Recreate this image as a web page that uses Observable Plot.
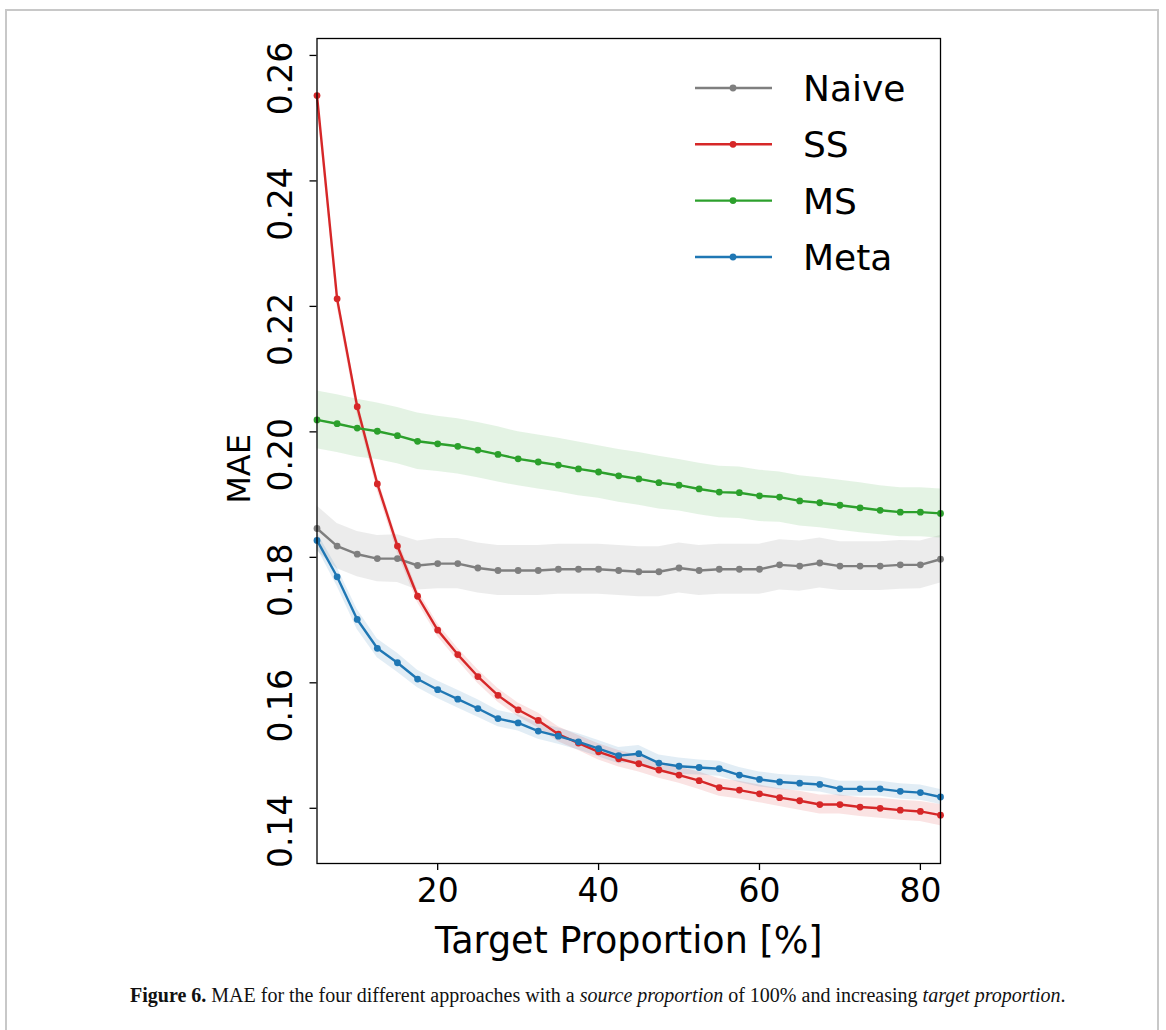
<!DOCTYPE html>
<html>
<head>
<meta charset="utf-8">
<script src="https://cdn.jsdelivr.net/npm/d3@7"></script>
<script src="https://cdn.jsdelivr.net/npm/@observablehq/plot@0.6"></script>
<style>
  html, body { margin: 0; padding: 0; background: #fff; }
  #page { position: relative; width: 1166px; height: 1030px; overflow: hidden; }
  #border { position: absolute; left: 5px; top: 9px; width: 1154px; height: 1040px; border: 2px solid #c8c8c8; box-sizing: border-box; }
  #chart { position: absolute; left: 0; top: 0; }
  #legend { position: absolute; left: 0; top: 0; }
  #caption { position: absolute; left: 130px; top: 984px; font-family: "Liberation Serif", serif; font-size: 20px; color: #111; white-space: nowrap; }
</style>
</head>
<body>
<div id="page">
  <div id="border"></div>
  <div id="chart"></div>
  <svg id="legend" width="1166" height="330"></svg>
  <div id="caption"><b>Figure 6.</b> MAE for the four different approaches with a <i>source proportion</i> of 100% and increasing <i>target proportion</i>.</div>
</div>
<script>
// ---- data ----
const targetProportion = [5, 7.5, 10, 12.5, 15, 17.5, 20, 22.5, 25, 27.5, 30, 32.5, 35, 37.5, 40, 42.5,
  45, 47.5, 50, 52.5, 55, 57.5, 60, 62.5, 65, 67.5, 70, 72.5, 75, 77.5, 80, 82.5];

const seriesNames = ["Naive", "SS", "MS", "Meta"];
const seriesColors = ["#7f7f7f", "#d62728", "#2ca02c", "#1f77b4"];

const naiveMAE = [0.1846, 0.1818, 0.1805, 0.1798, 0.1798, 0.1787, 0.1790, 0.1790, 0.1783, 0.1779, 0.1779, 0.1779, 0.1781, 0.1781, 0.1781, 0.1779,
  0.1777, 0.1777, 0.1783, 0.1779, 0.1781, 0.1781, 0.1781, 0.1788, 0.1786, 0.1791, 0.1786, 0.1786, 0.1786, 0.1788, 0.1788, 0.1797];
const ssMAE = [0.2536, 0.2212, 0.2040, 0.1917, 0.1818, 0.1738, 0.1684, 0.1645, 0.1610, 0.1580, 0.1557, 0.1540, 0.1518, 0.1504, 0.1490, 0.1479,
  0.1471, 0.1461, 0.1453, 0.1444, 0.1433, 0.1429, 0.1423, 0.1417, 0.1412, 0.1406, 0.1406, 0.1402, 0.1400, 0.1397, 0.1395, 0.1389];
const msMAE = [0.2019, 0.2013, 0.2006, 0.2001, 0.1994, 0.1985, 0.1981, 0.1977, 0.1971, 0.1964, 0.1957, 0.1952, 0.1947, 0.1941, 0.1936, 0.1930,
  0.1925, 0.1919, 0.1915, 0.1909, 0.1904, 0.1903, 0.1898, 0.1896, 0.1890, 0.1887, 0.1883, 0.1879, 0.1875, 0.1872, 0.1872, 0.1870];
const metaMAE = [0.1827, 0.1769, 0.1701, 0.1655, 0.1632, 0.1606, 0.1589, 0.1574, 0.1559, 0.1543, 0.1536, 0.1523, 0.1515, 0.1506, 0.1495, 0.1484,
  0.1487, 0.1472, 0.1467, 0.1465, 0.1463, 0.1453, 0.1446, 0.1442, 0.1440, 0.1438, 0.1431, 0.1431, 0.1431, 0.1427, 0.1425, 0.1418];

// half-widths of the shaded bands
const naiveStd = [0.0036, 0.0036, 0.0036, 0.0037, 0.0038, 0.0039, 0.0040, 0.0040, 0.0040, 0.0040, 0.0040, 0.0040, 0.0040, 0.0040, 0.0040, 0.0040,
  0.0040, 0.0040, 0.0040, 0.0040, 0.0040, 0.0040, 0.0040, 0.0040, 0.0040, 0.0040, 0.0039, 0.0039, 0.0039, 0.0039, 0.0038, 0.0038];
const ssStd = [0.0012, 0.0012, 0.0012, 0.0011, 0.0011, 0.0010, 0.0010, 0.0010, 0.0011, 0.0011, 0.0011, 0.0012, 0.0012, 0.0012, 0.0013, 0.0013,
  0.0013, 0.0013, 0.0013, 0.0014, 0.0014, 0.0014, 0.0014, 0.0014, 0.0015, 0.0015, 0.0015, 0.0015, 0.0016, 0.0016, 0.0016, 0.0017];
const msStd = [0.0046, 0.0046, 0.0046, 0.0045, 0.0045, 0.0045, 0.0044, 0.0044, 0.0044, 0.0044, 0.0043, 0.0043, 0.0043, 0.0043, 0.0042, 0.0042,
  0.0042, 0.0042, 0.0041, 0.0041, 0.0041, 0.0041, 0.0041, 0.0040, 0.0040, 0.0040, 0.0040, 0.0040, 0.0039, 0.0039, 0.0039, 0.0039];
const metaStd = [0.0012, 0.0015, 0.0016, 0.0015, 0.0015, 0.0014, 0.0014, 0.0014, 0.0014, 0.0013, 0.0013, 0.0013, 0.0013, 0.0013, 0.0013, 0.0013,
  0.0013, 0.0013, 0.0013, 0.0012, 0.0012, 0.0012, 0.0012, 0.0012, 0.0012, 0.0012, 0.0012, 0.0012, 0.0012, 0.0012, 0.0012, 0.0012];

const yTicks = [0.14, 0.16, 0.18, 0.20, 0.22, 0.24, 0.26];
const xTicks = [20, 40, 60, 80];
const xLabel = "Target Proportion [%]";
const yLabel = "MAE";

// ---- build long table ----
const values = [naiveMAE, ssMAE, msMAE, metaMAE];
const stds = [naiveStd, ssStd, msStd, metaStd];
const rows = [];
seriesNames.forEach((name, s) => {
  targetProportion.forEach((x, i) => {
    rows.push({series: name, x, y: values[s][i], lo: values[s][i] - stds[s][i], hi: values[s][i] + stds[s][i]});
  });
});

const bandOpacity = {Naive: 0.15, SS: 0.13, MS: 0.13, Meta: 0.13};

const marks = [];
seriesNames.forEach((name, s) => {
  const d = rows.filter(r => r.series === name);
  marks.push(Plot.areaY(d, {x: "x", y1: "lo", y2: "hi", fill: seriesColors[s], fillOpacity: bandOpacity[name]}));
});
seriesNames.forEach((name, s) => {
  const d = rows.filter(r => r.series === name);
  marks.push(Plot.line(d, {x: "x", y: "y", stroke: seriesColors[s], strokeWidth: 2.4}));
  marks.push(Plot.dot(d, {x: "x", y: "y", fill: seriesColors[s], r: 3.4, stroke: "none"}));
});

const chart = Plot.plot({
  width: 1166,
  height: 975,
  marginLeft: 316.5,
  marginRight: 226,
  marginTop: 38,
  marginBottom: 112,
  style: {fontFamily: "DejaVu Sans", background: "transparent", color: "black"},
  x: {domain: [5, 82.5]},
  y: {domain: [0.1312, 0.2627]},
  marks: [
    ...marks,
    Plot.frame({stroke: "black", strokeWidth: 1.3}),
    Plot.axisY({ticks: yTicks, tickFormat: d3.format(".2f"), tickSize: 7, label: null, strokeWidth: 1.3, text: null}),
    Plot.axisY({ticks: yTicks, tickFormat: d3.format(".2f"), tickRotate: -90, tickSize: 0, tickPadding: 25, dy: 23, fontSize: 33, label: null}),
    Plot.axisX({ticks: xTicks, tickSize: 7, tickPadding: 8, fontSize: 33, label: null, strokeWidth: 1.3}),
    Plot.text([yLabel], {text: d => d, frameAnchor: "left", textAnchor: "middle", lineAnchor: "middle", rotate: -90, dx: -77, dy: 18, fontSize: 32}),
    Plot.text([xLabel], {text: d => d, frameAnchor: "bottom", lineAnchor: "bottom", dy: 89, fontSize: 36.5})
  ]
});
document.getElementById("chart").appendChild(chart);

// ---- legend ----
const legend = d3.select("#legend");
const rowY = [88, 144.3, 200.6, 257];
seriesNames.forEach((name, i) => {
  const g = legend.append("g").attr("transform", `translate(0,${rowY[i]})`);
  g.append("line").attr("x1", 695).attr("x2", 772).attr("y1", 0).attr("y2", 0)
    .attr("stroke", seriesColors[i]).attr("stroke-width", 2.4);
  g.append("circle").attr("cx", 733).attr("cy", 0).attr("r", 3.4).attr("fill", seriesColors[i]);
  g.append("text").attr("x", 803).attr("y", 0).attr("dy", "0.36em")
    .attr("font-family", "DejaVu Sans").attr("font-size", 36).attr("fill", "black").text(name);
});
</script>
</body>
</html>
